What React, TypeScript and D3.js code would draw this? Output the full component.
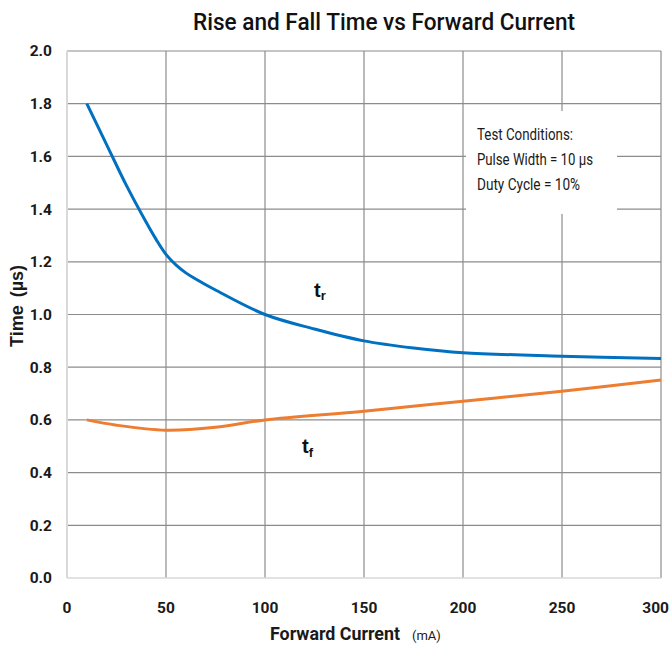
import { useEffect, useRef } from "react";
import * as d3 from "d3";

// values
const riseCurrent = [10, 20, 30, 40, 45, 50, 55, 60, 65, 75, 100, 125, 150, 175, 200, 250, 300];
const riseTime = [1.8, 1.645, 1.49, 1.35, 1.285, 1.228, 1.188, 1.158, 1.135, 1.093, 1.0, 0.945, 0.9, 0.873, 0.855, 0.842, 0.833];
const fallCurrent = [10, 25, 50, 75, 100, 150, 200, 250, 300];
const fallTime = [0.6, 0.58, 0.561, 0.572, 0.6, 0.633, 0.671, 0.709, 0.751];
const xTicks = [0, 50, 100, 150, 200, 250, 300];
const yTicks = [0, 0.2, 0.4, 0.6, 0.8, 1.0, 1.2, 1.4, 1.6, 1.8, 2.0];
const noteLines = ["Test Conditions:", "Pulse Width = 10 \u00b5s", "Duty Cycle = 10%"];
const noteWidths = [96, 116, 103];

const font = "Roboto, 'Liberation Sans', sans-serif";

function App() {
  const chartRef = useRef<SVGSVGElement>(null);

  useEffect(() => {
    const width = 670;
    const height = 650;
    const margin = { top: 51, right: 9, bottom: 72, left: 67 };
    const w = width - margin.left - margin.right;
    const h = height - margin.top - margin.bottom;

    const svg = d3.select(chartRef.current);
    svg.selectAll("*").remove();
    svg.attr("width", width).attr("height", height);

    svg.append("rect").attr("width", width).attr("height", height).attr("fill", "white");

    const x = d3.scaleLinear().domain([0, 300]).range([0, w]);
    const y = d3.scaleLinear().domain([0, 2]).range([h, 0]);

    const g = svg.append("g").attr("transform", `translate(${margin.left},${margin.top})`);

    // grid
    g.append("g")
      .selectAll("line")
      .data(yTicks.filter((d) => d > 0))
      .join("line")
      .attr("x1", 0)
      .attr("x2", w)
      .attr("y1", (d) => y(d))
      .attr("y2", (d) => y(d))
      .attr("stroke", "#8c8c8c")
      .attr("stroke-width", 1.2);
    g.append("g")
      .selectAll("line")
      .data(xTicks.filter((d) => d > 0))
      .join("line")
      .attr("x1", (d) => x(d))
      .attr("x2", (d) => x(d))
      .attr("y1", 0)
      .attr("y2", h)
      .attr("stroke", "#8c8c8c")
      .attr("stroke-width", 1.2);

    // axis lines
    g.append("line").attr("x1", 0).attr("x2", 0).attr("y1", 0).attr("y2", h)
      .attr("stroke", "#d9d9d9").attr("stroke-width", 2);
    g.append("line").attr("x1", 0).attr("x2", w).attr("y1", h).attr("y2", h)
      .attr("stroke", "#d9d9d9").attr("stroke-width", 1.5);

    // tick labels
    g.append("g")
      .selectAll("text")
      .data(yTicks)
      .join("text")
      .attr("x", -15)
      .attr("y", (d) => y(d))
      .attr("dy", "0.35em")
      .attr("text-anchor", "end")
      .attr("font-family", font)
      .attr("font-weight", "bold")
      .attr("font-size", 15.5)
      .attr("fill", "#1a1a1a")
      .text((d) => d3.format(".1f")(d));
    g.append("g")
      .selectAll("text")
      .data(xTicks)
      .join("text")
      .attr("x", (d) => x(d))
      .attr("dx", (d) => (d === 300 ? 8 : 0))
      .attr("y", h + 35)
      .attr("text-anchor", (d) => (d === 300 ? "end" : "middle"))
      .attr("font-family", font)
      .attr("font-weight", "bold")
      .attr("font-size", 15.5)
      .attr("fill", "#1a1a1a")
      .text((d) => d);

    // curves
    const line = d3
      .line<number>()
      .x((d, i) => x(riseCurrent[i]))
      .y((d) => y(d))
      .curve(d3.curveCatmullRom.alpha(0.5));
    const lineFall = d3
      .line<number>()
      .x((d, i) => x(fallCurrent[i]))
      .y((d) => y(d))
      .curve(d3.curveCatmullRom.alpha(0.5));

    g.append("path")
      .datum(riseTime)
      .attr("fill", "none")
      .attr("stroke", "#0070c0")
      .attr("stroke-width", 3)
      .attr("d", line);
    g.append("path")
      .datum(fallTime)
      .attr("fill", "none")
      .attr("stroke", "#ed7d31")
      .attr("stroke-width", 3)
      .attr("d", lineFall);

    // test conditions note
    svg.append("rect")
      .attr("x", 466)
      .attr("y", 111)
      .attr("width", 151)
      .attr("height", 103)
      .attr("fill", "white");
    svg.append("g")
      .selectAll("text")
      .data(noteLines)
      .join("text")
      .attr("x", 477)
      .attr("y", (d, i) => 140 + i * 25)
      .attr("font-family", font)
      .attr("font-size", 16)
      .attr("textLength", (d, i) => noteWidths[i])
      .attr("lengthAdjust", "spacingAndGlyphs")
      .attr("fill", "#1a1a1a")
      .text((d) => d);

    // curve labels
    const tr = svg.append("text")
      .attr("x", 314)
      .attr("y", 297)
      .attr("font-family", "'Liberation Sans', sans-serif")
      .attr("font-weight", "bold")
      .attr("font-size", 20)
      .attr("fill", "#111");
    tr.append("tspan").text("t");
    tr.append("tspan").attr("font-size", 13).attr("dy", 3).text("r");
    const tf = svg.append("text")
      .attr("x", 302)
      .attr("y", 453)
      .attr("font-family", "'Liberation Sans', sans-serif")
      .attr("font-weight", "bold")
      .attr("font-size", 20)
      .attr("fill", "#111");
    tf.append("tspan").text("t");
    tf.append("tspan").attr("font-size", 13).attr("dy", 4).text("f");

    // titles
    svg.append("text")
      .attr("x", 193)
      .attr("y", 30)
      .attr("font-family", font)
      .attr("font-weight", 500)
      .attr("font-size", 23)
      .attr("textLength", 382)
      .attr("lengthAdjust", "spacingAndGlyphs")
      .attr("fill", "#111")
      .text("Rise and Fall Time vs Forward Current");

    svg.append("text")
      .attr("x", 270)
      .attr("y", 640)
      .attr("font-family", font)
      .attr("font-weight", "bold")
      .attr("font-size", 18)
      .attr("textLength", 130)
      .attr("lengthAdjust", "spacingAndGlyphs")
      .attr("fill", "#1a1a1a")
      .text("Forward Current");
    svg.append("text")
      .attr("x", 412)
      .attr("y", 640)
      .attr("font-family", font)
      .attr("font-size", 13)
      .attr("fill", "#1a1a1a")
      .text("(mA)");

    const yt = svg.append("text")
      .attr("transform", "translate(23,306) rotate(-90)")
      .attr("text-anchor", "middle")
      .attr("font-family", "'Liberation Sans', sans-serif")
      .attr("font-weight", "bold")
      .attr("font-size", 18)
      .attr("fill", "#1a1a1a");
    yt.append("tspan").text("Time");
    yt.append("tspan").attr("dx", 8).text("(\u00b5s)");
  }, []);

  return (
    <svg
      ref={chartRef}
      style={{ position: "absolute", left: 0, top: 0, display: "block" }}
    ></svg>
  );
}

export default App;
